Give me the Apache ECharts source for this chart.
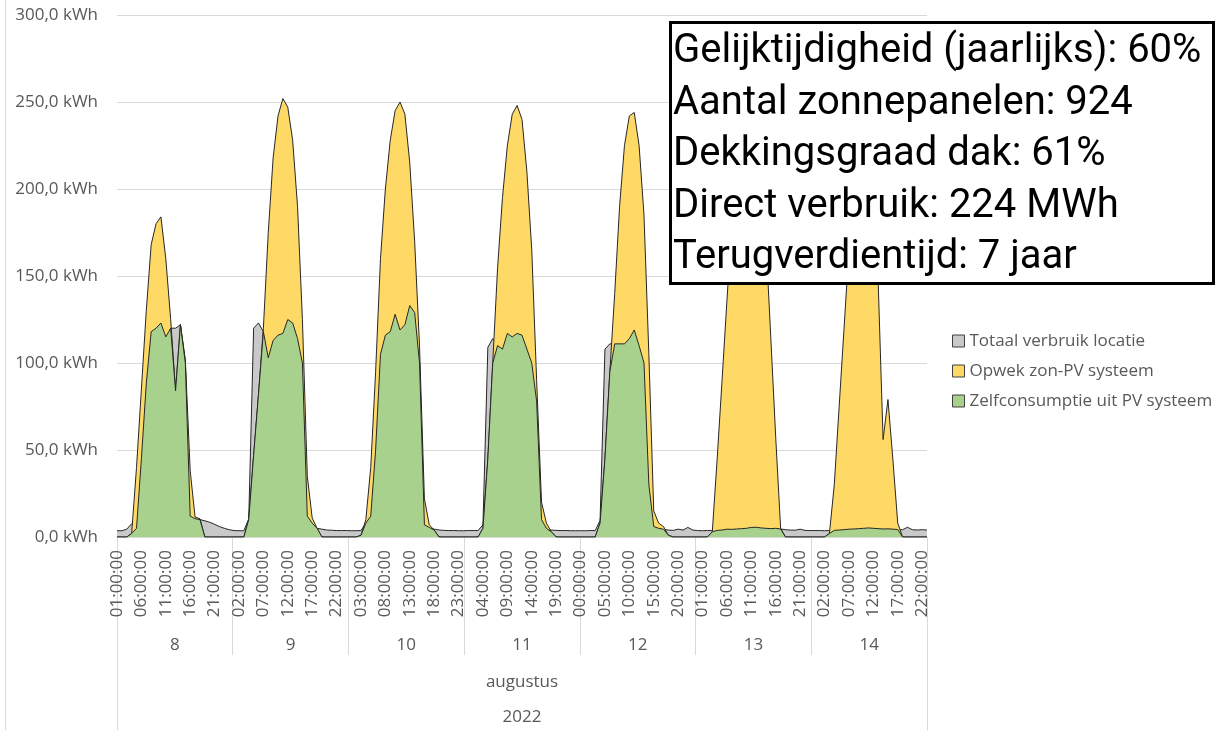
<!DOCTYPE html>
<html>
<head>
<meta charset="utf-8">
<script src="https://cdn.jsdelivr.net/npm/echarts@6/dist/echarts.min.js"></script>
<style>
html,body{margin:0;padding:0;background:#fff;}
#chart{width:1217px;height:730px;}
</style>
</head>
<body>
<div id="chart"></div>
<script>
// ---- labels ----
const dayLabels = ['8', '9', '10', '11', '12', '13', '14'];
const monthLabels = ['augustus'];
const yearLabels = ['2022'];
const firstHour = 1; // data starts 8 aug 01:00
const seriesNames = ['Totaal verbruik locatie', 'Opwek zon-PV systeem', 'Zelfconsumptie uit PV systeem'];
const infoLines = [
  'Gelijktijdigheid (jaarlijks): 60%',
  'Aantal zonnepanelen: 924',
  'Dekkingsgraad dak: 61%',
  'Direct verbruik: 224 MWh',
  'Terugverdientijd: 7 jaar'
];

// ---- values (kWh per hour) ----
const totaalVerbruik = [
  // 8 aug 01:00-23:00
  3.6,3.6,4.5,7.6,5,45,88,118,120,123,115,120,120,122,100,12,10.5,10,9.3,8.5,7.3,6,5,
  // 9 aug
  4.2,3.7,3.6,3.6,10.5,120,123,118,103,113,116,117,125,123,114,100,12,8,5,4.5,4,3.9,3.7,3.7,
  // 10 aug
  3.7,3.6,3.6,3.7,8,12,50,105,116,118,128,119,122,133,129,100,7,5.5,4.5,4,3.8,3.7,3.7,3.6,
  // 11 aug
  3.6,3.7,3.7,3.7,7,109,114,110,108,117,115,117,116,108,100,78,10,5,4,3.8,3.7,3.7,3.6,3.6,
  // 12 aug
  3.6,3.6,3.7,3.7,9.5,108,111,111,111,111,114,119,110,100,30,6,5,4.5,4,3.8,4.5,4,5.5,4,
  // 13 aug
  3.7,3.6,3.7,3.7,3.8,4.0,4.5,4.4,4.6,4.8,5.0,5.5,5.6,5.2,5.0,4.8,5.0,4.6,4.2,4.0,3.9,4.5,3.8,3.7,
  // 14 aug
  3.7,3.7,3.6,3.7,3.8,4.0,4.2,4.5,4.6,4.8,5.0,5.2,5.0,4.8,4.6,4.7,4.5,4.3,4.2,5.6,4.2,4.0,4.2,4.0
];
const opwekPV = [
  0,0,0,2,40,85,130,168,180,184,160,125,84,122,102,38,11.5,10.5,0,0,0,0,0,
  0,0,0,0,10,47,82,120,175,218,242,252,247,228,190,125,35,11,5,0,0,0,0,0,
  0,0,0,1,10,40,95,160,200,228,245,250,243,215,170,110,22,7,4,0,0,0,0,0,
  0,0,0,0,5,45,100,155,195,225,243,248,240,210,165,90,20,8,3,0,0,0,0,0,
  0,0,0,0,8,45,95,140,190,225,242,244,225,185,105,15,8,6,1,0,0,0,0,0,
  0,0,0,3,45,90,136,180,215,240,250,250,240,210,170,114,57,5,0,0,0,0,0,0,
  0,0,0,2,30,75,120,165,205,235,248,245,225,146,56,79,45,8,0,0,0,0,0,0
];
const zelfconsumptie = [
  0,0,0,2,5,45,88,118,120,123,115,120,84,122,100,12,10.5,10,0,0,0,0,0,
  0,0,0,0,10,47,82,118,103,113,116,117,125,123,114,100,12,8,5,0,0,0,0,0,
  0,0,0,1,8,12,50,105,116,118,128,119,122,133,129,100,7,5.5,4,0,0,0,0,0,
  0,0,0,0,5,45,100,110,108,117,115,117,116,108,100,78,10,5,3,0,0,0,0,0,
  0,0,0,0,8,45,95,111,111,111,114,119,110,100,30,6,5,4.5,1,0,0,0,0,0,
  0,0,0,3,3.8,4.0,4.5,4.4,4.6,4.8,5.0,5.5,5.6,5.2,5.0,4.8,5.0,4.6,0,0,0,0,0,0,
  0,0,0,2,3.8,4.0,4.2,4.5,4.6,4.8,5.0,5.2,5.0,4.8,4.6,4.7,4.5,4.3,0,0,0,0,0,0
];

// hour category labels
const hourLabels = [];
dayLabels.forEach((d, di) => {
  for (let h = (di === 0 ? firstHour : 0); h < 24; h++) {
    hourLabels.push(String(h).padStart(2, '0') + ':00:00');
  }
});

const fills = ['#c9c9c9', '#ffd966', '#a9d18e'];
const seriesData = [totaalVerbruik, opwekPV, zelfconsumptie];

const font = 'Open Sans';
const labelColor = '#595959';
const gridBox = {left: 117, right: 290, top: 15, bottom: 193};
const chart = echarts.init(document.getElementById('chart'), null, {renderer: 'canvas'});

const option = {
  animation: false,
  backgroundColor: '#ffffff',
  grid: [Object.assign({}, gridBox), Object.assign({}, gridBox), Object.assign({}, gridBox), Object.assign({}, gridBox)],
  xAxis: [
    {
      gridIndex: 0, type: 'category', data: hourLabels, boundaryGap: false, position: 'bottom',
      axisLine: {show: true, lineStyle: {color: '#d9d9d9', width: 1}},
      axisTick: {show: false},
      axisLabel: {rotate: 90, interval: 4, color: labelColor, fontSize: 17, fontFamily: font, margin: 13},
      splitLine: {show: false}
    },
    {
      gridIndex: 1, type: 'category', data: dayLabels, boundaryGap: true, position: 'bottom',
      axisLine: {show: false},
      axisTick: {show: true, interval: 0, length: 118, lineStyle: {color: '#d9d9d9', width: 1}},
      axisLabel: {interval: 0, color: labelColor, fontSize: 17, fontFamily: font, margin: 100},
      splitLine: {show: false}
    },
    {
      gridIndex: 2, type: 'category', data: monthLabels, boundaryGap: true, position: 'bottom',
      axisLine: {show: false},
      axisTick: {show: true, interval: 0, length: 194, lineStyle: {color: '#d9d9d9', width: 1}},
      axisLabel: {interval: 0, color: labelColor, fontSize: 17, fontFamily: font, margin: 137},
      splitLine: {show: false}
    },
    {
      gridIndex: 3, type: 'category', data: yearLabels, boundaryGap: true, position: 'bottom',
      axisLine: {show: false},
      axisTick: {show: false},
      axisLabel: {interval: 0, color: labelColor, fontSize: 17, fontFamily: font, margin: 172},
      splitLine: {show: false}
    }
  ],
  yAxis: [
    {
      gridIndex: 0, type: 'value', min: 0, max: 300, interval: 50,
      axisLine: {show: false}, axisTick: {show: false},
      axisLabel: {color: labelColor, fontSize: 17, fontFamily: font, margin: 19,
        formatter: v => v.toFixed(1).replace('.', ',') + ' kWh'},
      splitLine: {lineStyle: {color: '#d9d9d9', width: 1}}
    },
    {gridIndex: 1, type: 'value', show: false},
    {gridIndex: 2, type: 'value', show: false},
    {gridIndex: 3, type: 'value', show: false}
  ],
  legend: {
    orient: 'vertical', left: 947, top: 327,
    icon: 'rect', itemWidth: 12, itemHeight: 12, itemGap: 12,
    itemStyle: {borderColor: '#404040', borderWidth: 1},
    textStyle: {color: labelColor, fontSize: 17, fontFamily: font, lineHeight: 18},
    data: seriesNames
  },
  series: seriesNames.map((name, i) => ({
    name: name,
    type: 'line',
    xAxisIndex: 0, yAxisIndex: 0,
    data: seriesData[i],
    showSymbol: false,
    symbol: 'none',
    smooth: false,
    itemStyle: {color: fills[i]},
    lineStyle: {color: '#262626', width: 1},
    areaStyle: {color: fills[i], opacity: 1},
    z: 2 + i
  })),
  graphic: [
    {type: 'line', z: 100, shape: {x1: 5.5, y1: 0, x2: 5.5, y2: 730}, style: {stroke: '#d9d9d9', lineWidth: 1}},
    {type: 'rect', z: 100, shape: {x: 670.5, y: 22.5, width: 543, height: 261}, style: {fill: '#ffffff', stroke: '#000000', lineWidth: 3}}
  ].concat(infoLines.map((t, i) => ({
    type: 'text', z: 101, x: 673, y: 52 + i * 51.5,
    style: {text: t, fill: '#000000', fontSize: 40, fontFamily: 'Roboto', verticalAlign: 'middle', textVerticalAlign: 'middle'}
  })))
};
chart.setOption(option);
</script>
</body>
</html>
